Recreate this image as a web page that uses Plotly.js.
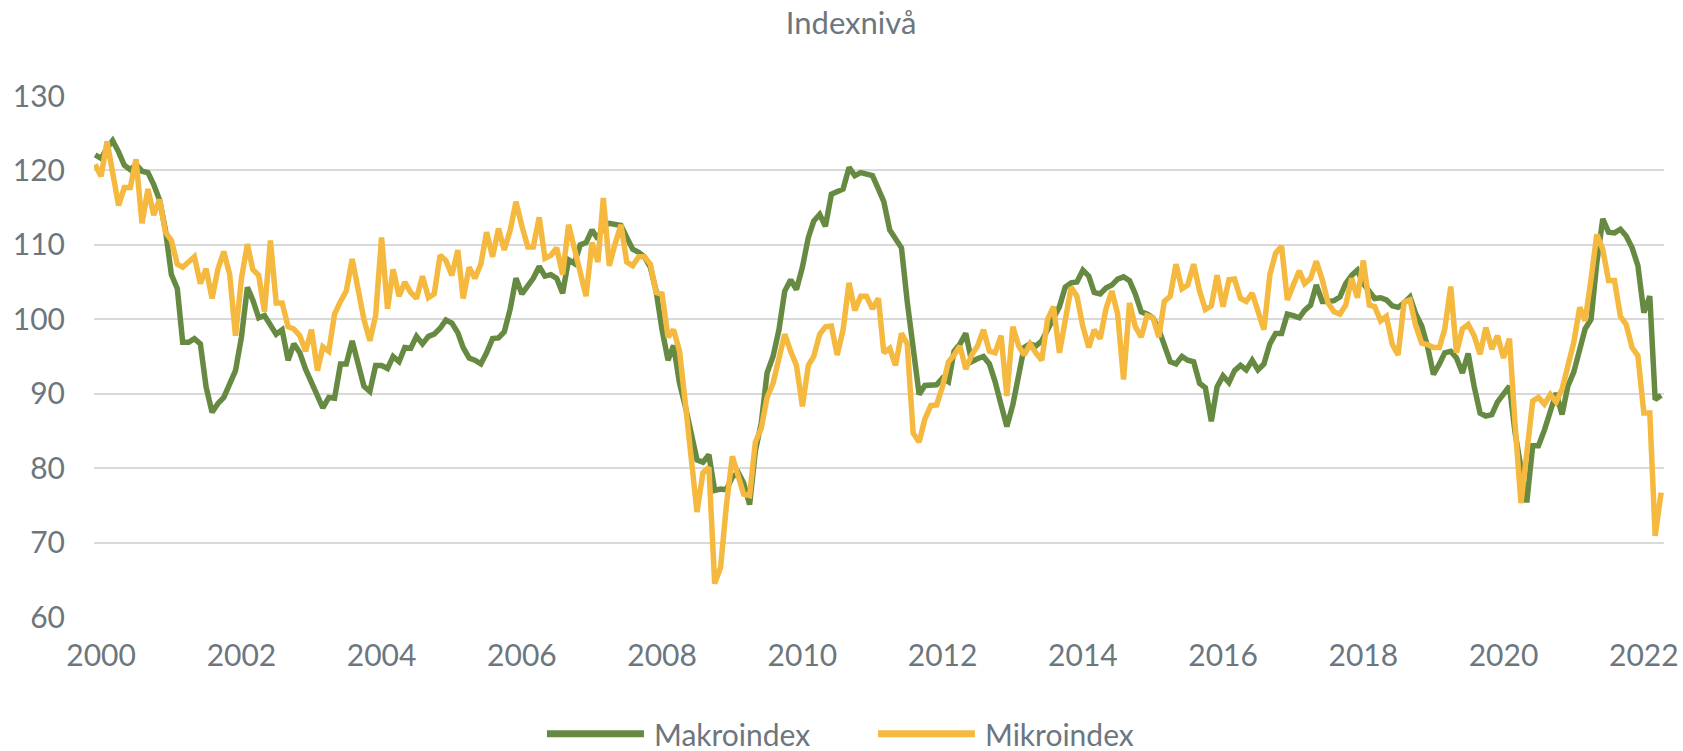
<!DOCTYPE html>
<html>
<head>
<meta charset="utf-8">
<script src="https://cdn.plot.ly/plotly-3.0.1.min.js"></script>
<style>
  html, body { margin: 0; padding: 0; background: #ffffff; }
  #chart { width: 1683px; height: 751px; }
</style>
</head>
<body>
<div id="chart"></div>
<script>
// First month of the series (year, month) – one value per month
const startYear = 1999;
const startMonth = 12;

const seriesNames = ["Makroindex", "Mikroindex"];

const makroindex = [
  122.1,121.6,123,124,122.5,120.7,120.1,120.8,119.9,119.7,
  118.1,116,112,106,104.1,96.9,96.9,97.4,96.7,90.9,
  87.5,88.7,89.5,91.4,93.1,97.6,104.3,102.6,100.2,100.5,
  99.3,98,98.6,94.5,96.7,95.5,93.3,91.5,89.7,88.1,
  89.5,89.4,94,94,97.1,94.3,91,90.3,93.8,93.8,
  93.4,95,94.3,96.2,96.1,97.7,96.7,97.7,98,98.8,
  99.9,99.5,98.2,96.2,94.8,94.5,94,95.5,97.4,97.5,
  98.3,101.4,105.5,103.4,104.6,105.5,107.1,105.8,106,105.5,
  103.5,108,107.5,110,110.3,112,110.8,112.5,112.9,112.8,
  112.6,111,109.4,109,108.4,107,103.8,98.6,94.5,96.5,
  91.4,88.3,84.2,81.1,80.8,81.8,77,77.2,77.1,78.8,
  79.4,78,75.1,82.3,86.1,92.8,95,98.6,103.8,105.3,
  104,107,111,113.2,114.1,112.5,116.8,117.2,117.5,120.4,
  119.3,119.7,119.5,119.3,117.5,115.8,112,110.8,109.6,102.4,
  95.7,89.9,91.1,91.1,91.2,92.1,91.6,95.7,96.7,98.1,
  94.3,94.7,95,94,91.6,88.5,85.6,88.5,92.8,96.2,
  96.7,96.4,97.1,98.6,100,101.7,104.3,104.9,105,106.6,
  105.8,103.6,103.4,104.2,104.6,105.4,105.7,105.2,103.4,101,
  100.7,100.2,98.6,96.7,94.3,94,95,94.5,94.3,91.4,
  90.8,86.3,90.9,92.4,91.5,93.1,93.8,93.2,94.5,93.2,
  94,96.7,98.1,98.1,100.7,100.5,100.2,101.2,101.9,104.6,
  102.4,102.4,102.5,103,104.8,105.9,106.6,104.8,103.6,102.8,
  102.9,102.6,101.8,101.6,102.2,103,100.7,99.1,96.4,92.6,
  94,95.5,95.7,94.8,92.8,95.4,91,87.4,87,87.2,
  88.9,89.9,91,84.8,79.4,75.4,83,83,85.1,87.9,
  90.1,87.2,91,92.9,95.7,98.7,100,107.6,113.5,111.7,
  111.6,112.1,111.2,109.6,107.2,100.9,103.1,89.2,89.8
];

const mikroindex = [
  120.8,119.2,123.9,119.6,115.3,117.7,117.7,121.5,112.9,117.5,
  114,116.1,111.7,110.6,107.4,107,107.7,108.4,104.8,106.8,
  102.8,106.8,109.1,106,97.8,105.5,110.1,106.7,105.9,101,
  110.6,102.2,102.2,99,98.7,97.8,95.7,98.6,93.1,96.3,
  95.7,100.7,102.4,103.8,108.1,103.8,100,97.1,100.5,111,
  101.4,106.7,103.1,105,103.6,102.8,105.8,102.9,103.4,108.6,
  107.9,105.9,109.3,102.8,107,105.5,107.4,111.7,108.4,112.2,
  109.3,112,115.8,112.5,109.7,109.7,113.7,108.2,108.6,109.6,
  106,112.7,109.6,106.7,103.1,110.3,107.7,116.3,107.2,110.1,
  112.7,107.7,107.2,108.4,108.4,107.4,103.6,103.4,97.6,98.6,
  95.7,88.8,82,74.1,79.4,80.1,64.5,66.7,75,81.6,
  78.9,76.5,76.3,83.5,85.4,89.5,91.4,95.2,98,95.7,
  93.8,88.3,93.8,95,98,99,99.1,95.2,98.6,104.9,
  101.2,103.1,103.1,101.4,102.8,95.5,96.1,93.8,98.1,96.7,
  84.7,83.5,86.6,88.4,88.5,91,94.3,95.2,96.4,93.3,
  95.2,96.4,98.6,95.7,95.5,97.8,89.7,99,96.4,95.2,
  96.7,95.5,94.5,100,101.7,95.5,99.5,104.3,103.1,99,
  96.2,98.6,97.4,101.4,103.8,100.7,91.9,102.2,99,97.6,
  100.5,100.2,97.6,102.4,103.1,107.4,104.1,104.6,107.4,103.8,
  101.3,101.8,105.9,101.7,105.3,105.4,102.8,102.4,103.5,101,
  98.6,106,108.9,109.8,102.6,104.6,106.5,104.8,105.5,107.8,
  105.3,102.2,101,100.7,101.9,105.5,102.9,107.9,101.9,101.7,
  99.8,100.4,96.6,95.2,102.3,102.6,99.1,96.8,96.6,96.2,
  96.2,98.7,104.4,95.5,98.7,99.3,97.8,95.3,98.9,96,
  97.8,94.8,97.4,86,75.3,82,89,89.5,88.6,89.9,
  88.9,90.6,93.7,96.9,101.6,99.8,105.4,111.4,109.4,105.2,
  105.2,100.4,99.3,96.2,95.1,87.4,87.4,70.9,76.7
];

const yTickValues = [60, 70, 80, 90, 100, 110, 120, 130];
const xTickYears = [2000, 2002, 2004, 2006, 2008, 2010, 2012, 2014, 2016, 2018, 2020, 2022];

// month dates for the series
function monthDates(n) {
  const out = [];
  for (let i = 0; i < n; i++) {
    const t = (startMonth - 1) + i;
    const y = startYear + Math.floor(t / 12);
    const m = (t % 12) + 1;
    out.push(y + "-" + String(m).padStart(2, "0") + "-01");
  }
  return out;
}
const dates = monthDates(makroindex.length);

const green = "#668a42";
const yellow = "#f4b93e";
const textGray = "#6c767e";
const gridGray = "#d9d9d9";
const fontFam = "Lato, 'Open Sans', sans-serif";

const traces = [
  { x: dates, y: makroindex, name: seriesNames[0], type: "scatter", mode: "lines",
    line: { color: green, width: 5.5 }, hoverinfo: "x+y" },
  { x: dates, y: mikroindex, name: seriesNames[1], type: "scatter", mode: "lines",
    line: { color: yellow, width: 5.5 }, hoverinfo: "x+y" }
];

// manual legend (long line swatches like the reference)
const legY = -0.224;
const legend = [
  { color: green, x0: 0.2885, x1: 0.3503, tx: 0.3555, label: seriesNames[0] },
  { color: yellow, x0: 0.4994, x1: 0.5611, tx: 0.5663, label: seriesNames[1] }
];
const shapes = legend.map(l => ({
  type: "line", xref: "paper", yref: "paper",
  x0: l.x0, x1: l.x1, y0: legY, y1: legY,
  line: { color: l.color, width: 7 }
}));
const annotations = legend.map(l => ({
  xref: "paper", yref: "paper", x: l.tx, y: legY,
  xanchor: "left", yanchor: "middle", showarrow: false,
  text: l.label, font: { family: fontFam, size: 30, color: textGray }
}));

const layout = {
  width: 1683, height: 751,
  paper_bgcolor: "#ffffff", plot_bgcolor: "#ffffff",
  margin: { l: 94, r: 19, t: 96, b: 134 },
  showlegend: false,
  title: {
    text: "Indexnivå",
    font: { family: fontFam, size: 31, color: textGray },
    xref: "container", x: 0.5057, xanchor: "center",
    yref: "container", y: 0.969, yanchor: "middle"
  },
  xaxis: {
    type: "date",
    range: ["1999-11-25", "2022-04-16"],
    tickvals: xTickYears.map(y => y + "-01-01"),
    ticktext: xTickYears.map(String),
    showgrid: false, zeroline: false, showline: false,
    ticks: "", ticklabelstandoff: 18,
    tickfont: { family: fontFam, size: 30, color: textGray },
    fixedrange: true
  },
  yaxis: {
    range: [60, 130],
    tickvals: yTickValues,
    showgrid: true, gridcolor: gridGray, gridwidth: 2,
    zeroline: false, showline: false,
    ticks: "", ticklabelstandoff: 28,
    tickfont: { family: fontFam, size: 30, color: textGray },
    fixedrange: true
  },
  shapes: shapes,
  annotations: annotations
};

Plotly.newPlot("chart", traces, layout, { staticPlot: true, displayModeBar: false });
</script>
</body>
</html>
